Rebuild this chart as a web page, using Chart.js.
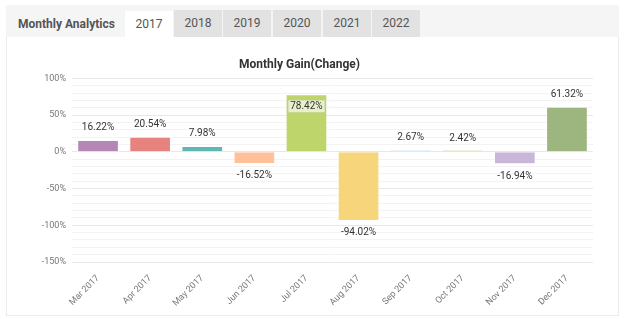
<!DOCTYPE html>
<html>
<head>
<meta charset="utf-8">
<script src="https://cdn.jsdelivr.net/npm/chart.js@4"></script>
<style>
  html,body{margin:0;padding:0;background:#fff;width:625px;height:319px;overflow:hidden;font-family:Roboto,"Liberation Sans",Arial,sans-serif;}
  #panel{position:absolute;left:6px;top:5px;width:613px;height:311px;border:1px solid #ececec;background:#fff;box-sizing:border-box;}
  #header{position:absolute;left:6px;top:5px;width:613px;height:32px;background:#f5f5f5;}
  #htitle{position:absolute;left:18px;top:12px;font-size:12px;font-weight:bold;color:#555;line-height:25px;}
  .tab{position:absolute;top:10px;height:27px;width:48px;background:#e2e2e2;color:#555;font-size:12px;text-align:center;line-height:27px;}
  .tab.active{background:#fff;top:11px;height:26px;line-height:26px;}
  #wrap{position:absolute;left:6px;top:38px;width:613px;height:277px;}
</style>
</head>
<body>
<div id="panel"></div>
<div id="header"></div>
<div id="htitle">Monthly Analytics</div>
<div id="tabs"></div>
<div id="wrap"><canvas id="c"></canvas></div>
<script>
const tabYears = ['2017','2018','2019','2020','2021','2022'];
const tabLefts = [125,174,223,273,323,372];
const categories = ['Mar 2017','Apr 2017','May 2017','Jun 2017','Jul 2017','Aug 2017','Sep 2017','Oct 2017','Nov 2017','Dec 2017'];
const gains = [16.22, 20.54, 7.98, -16.52, 78.42, -94.02, 2.67, 2.42, -16.94, 61.32];
const barColors = ['#b487b7','#e6837f','#5fb7b5','#ffc09a','#bdd56a','#f7d57a','#cfe6f5','#c9c96b','#c9b7da','#9db57e'];
const yMin = -150, yMax = 100, yStep = 10, yLabelStep = 50;

const tabsEl = document.getElementById('tabs');
tabYears.forEach((y,i)=>{
  const d=document.createElement('div');
  d.className='tab'+(i===0?' active':'');
  d.style.left=tabLefts[i]+'px';
  d.textContent=y;
  tabsEl.appendChild(d);
});

const labelPlugin = {
  id:'valueLabels',
  afterDatasetsDraw(chart){
    const ctx=chart.ctx;
    const meta=chart.getDatasetMeta(0);
    const area=chart.chartArea;
    ctx.save();
    ctx.font='10px Roboto';
    ctx.textAlign='center';
    ctx.textBaseline='middle';
    meta.data.forEach((bar,i)=>{
      const v=gains[i];
      const txt=v.toFixed(2)+'%';
      let y;
      let inside=false;
      if(v>=0){
        y=bar.y-12;
        if(bar.y-20<area.top){y=bar.y+12;inside=true;}
      } else {
        y=bar.y+12;
      }
      if(inside){
        const w=ctx.measureText(txt).width+4;
        ctx.fillStyle='rgba(255,255,255,0.65)';
        ctx.fillRect(bar.x-w/2,y-6,w,12);
        ctx.strokeStyle='rgba(200,200,200,0.6)';
        ctx.lineWidth=0.5;
        ctx.strokeRect(bar.x-w/2,y-6,w,12);
      }
      ctx.fillStyle='#333';
      ctx.fillText(txt,bar.x,y);
    });
    ctx.restore();
  }
};

new Chart(document.getElementById('c'),{
  type:'bar',
  data:{
    labels:categories,
    datasets:[{
      data:gains,
      backgroundColor:barColors,
      borderColor:'rgba(255,255,255,0.35)',
      borderWidth:1,
      barPercentage:0.8,
      categoryPercentage:1.0
    }]
  },
  options:{
    responsive:true,
    maintainAspectRatio:false,
    animation:false,
    layout:{padding:{left:0,right:26,top:0,bottom:0}},
    plugins:{
      legend:{display:false},
      tooltip:{enabled:false},
      title:{
        display:true,
        text:'Monthly Gain(Change)',
        color:'#333',
        font:{family:'Roboto',size:12,weight:'bold'},
        padding:{top:20,bottom:6}
      }
    },
    scales:{
      x:{
        grid:{display:false},
        border:{display:false},
        ticks:{
          color:'#777',
          font:{family:'Roboto',size:9},
          maxRotation:45,minRotation:45,
          autoSkip:false,
          padding:3
        },
        afterFit(s){s.height=53;}
      },
      y:{
        min:yMin,max:yMax,
        border:{display:false},
        grid:{
          drawTicks:false,
          color:(c)=> (c.tick && c.tick.value % yLabelStep===0) ? '#e8e8e8' : '#f3f3f3'
        },
        ticks:{
          stepSize:yStep,
          autoSkip:false,
          padding:6,
          color:'#777',
          font:{family:'Roboto',size:9},
          callback:(v)=> (v % yLabelStep===0) ? v+'%' : ''
        },
        afterFit(s){s.width=66;}
      }
    }
  },
  plugins:[labelPlugin]
});
</script>
</body>
</html>
